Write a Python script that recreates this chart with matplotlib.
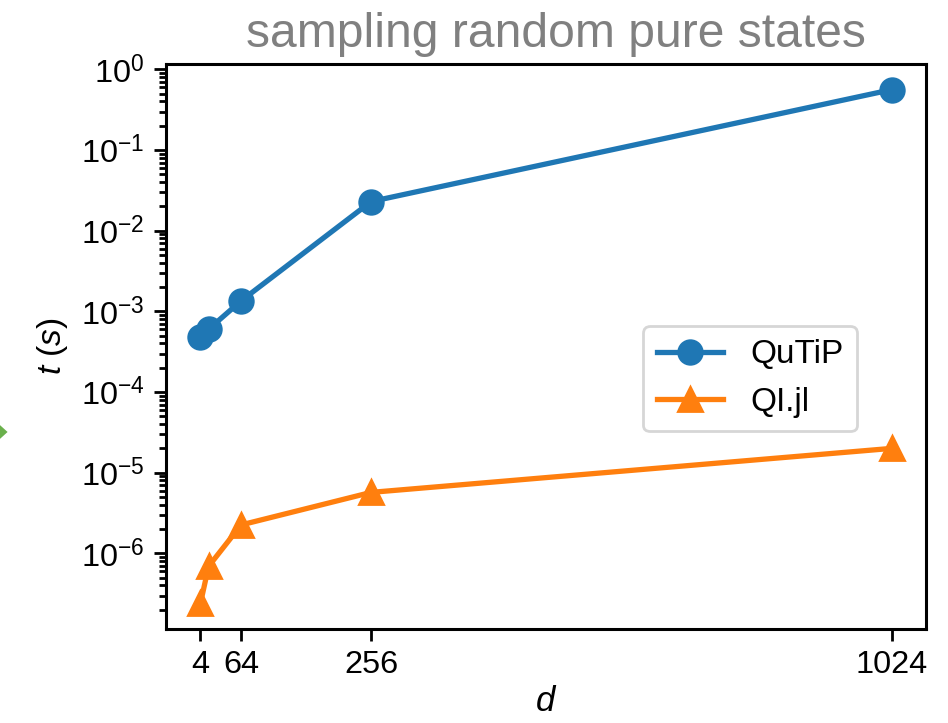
import matplotlib
matplotlib.use("Agg")
import matplotlib.pyplot as plt
from matplotlib.patches import Polygon

plt.rcParams['font.family'] = ['Liberation Sans', 'DejaVu Sans']
plt.rcParams['mathtext.fontset'] = 'custom'
plt.rcParams['mathtext.rm'] = 'Liberation Sans'
plt.rcParams['mathtext.it'] = 'Liberation Sans:italic'
plt.rcParams['mathtext.bf'] = 'Liberation Sans:bold'

# benchmark: time to sample a random pure state of dimension d
dims = [4, 16, 64, 256, 1024]
qutip_times = [4.8e-4, 6.0e-4, 1.35e-3, 2.3e-2, 0.56]
qijl_times = [2.4e-7, 6.9e-7, 2.25e-6, 5.7e-6, 2.0e-5]
xticks = [4, 64, 256, 1024]

fig, ax = plt.subplots(figsize=(4.74, 3.615), dpi=200)
fig.subplots_adjust(left=0.175, right=0.977, top=0.9115, bottom=0.130)

ax.plot(dims, qutip_times, marker='o', markersize=8.5, lw=1.9, label='QuTiP')
ax.plot(dims, qijl_times, marker='^', markersize=8.5, lw=1.9, label='QI.jl')
ax.set_yscale('log')
ax.set_xticks(xticks)
ax.tick_params(labelsize=11.7, width=1.0, length=4.2)
ax.tick_params(which='minor', width=1.0, length=2.6)
for s in ax.spines.values():
    s.set_linewidth(1.1)

ax.set_title('sampling random pure states', color='gray', fontsize=17.3, x=0.513)
ax.set_xlabel('$d$', fontsize=12.5, labelpad=1.5)
ax.set_ylabel('$t\\ (s)$', fontsize=12)
ax.legend(loc='upper left', bbox_to_anchor=(0.628, 0.536), borderaxespad=0,
          fontsize=12)

# small green arrow head cut off at the left edge
fig.add_artist(Polygon([[0.0, 0.412], [0.0, 0.393], [0.008, 0.4025]],
                       closed=True, transform=fig.transFigure,
                       color='#6ab04c', lw=0))

fig.savefig('out.png', dpi=200)
